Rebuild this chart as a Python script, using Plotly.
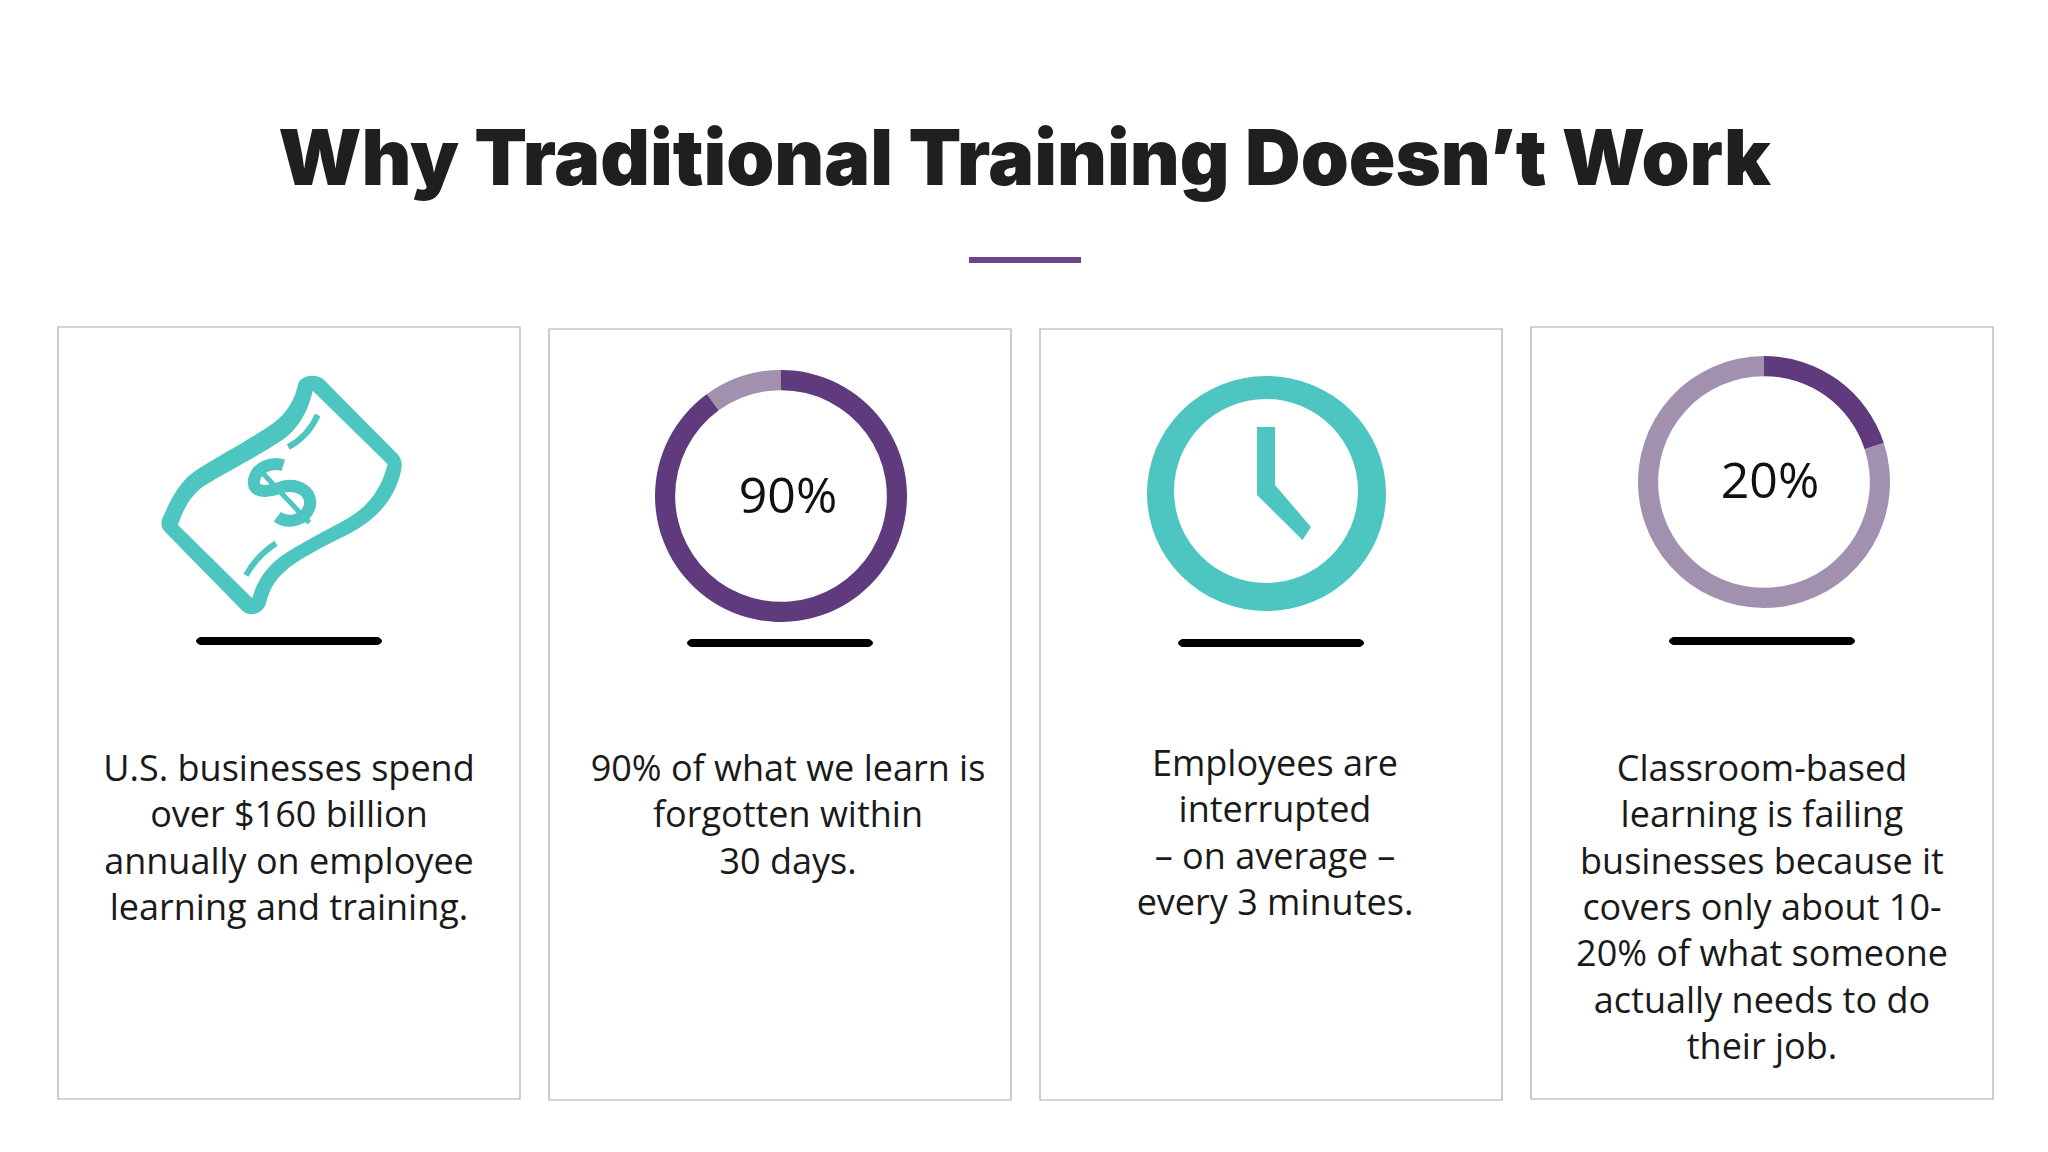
import plotly.graph_objects as go

WIDTH = 2048
HEIGHT = 1152

TEAL = "#4DC5C1"
PURPLE = "#5F3B7E"
LIGHT_PURPLE = "#A291AE"
TITLE_COLOR = "#1F1F1F"
BORDER = "#ABABAB"

title_text = "Why Traditional Training Doesn’t Work"

# card boxes: left, top, right, bottom
card_left = [58, 549, 1040, 1531]
card_top = [327, 329, 329, 327]
card_right = [520, 1011, 1502, 1993]
card_bottom = [1099, 1100, 1100, 1099]
rule_y = [641, 643, 643, 641]

card1_lines = ["U.S. businesses spend", "over $160 billion", "annually on employee", "learning and training."]
card2_lines = ["90% of what we learn is", "forgotten within", "30 days."]
card3_lines = ["Employees are", "interrupted", "– on average –", "every 3 minutes."]
card4_lines = ["Classroom-based", "learning is failing", "businesses because it", "covers only about 10-",
               "20% of what someone", "actually needs to do", "their job."]
card_lines = [card1_lines, card2_lines, card3_lines, card4_lines]
text_x = [289, 788, 1275, 1762]
text_first_y = [772, 772, 767, 772]
LINE_STEP = 46.3

# donuts
donut1_values = [90, 10]
donut2_values = [20, 80]
donut1_colors = [PURPLE, LIGHT_PURPLE]
donut2_colors = [PURPLE, LIGHT_PURPLE]
donut_labels = ["90%", "20%"]
donut_label_x = [788, 1770]
donut_label_y = [500, 485]


def zoom_path(text):
    # bill icon was measured on a 3x crop starting at (40, 320)
    out = []
    for token in text.split():
        if "," in token:
            x, y = token.split(",")
            out.append(f"{float(x) / 3 + 40:.1f},{float(y) / 3 + 320:.1f}")
        else:
            out.append(token)
    return " ".join(out)


def rounded_rule(mid, y, half=93, r=4):
    x0, x1 = mid - half + r, mid + half - r
    return (f"M {x0},{y - r} L {x1},{y - r} Q {x1 + 2 * r},{y} {x1},{y + r} "
            f"L {x0},{y + r} Q {x0 - 2 * r},{y} {x0},{y - r} Z")


BILL_OUTER = ("M 775,190 C 785,165 830,160 850,178 L 1075,405 C 1090,425 1085,445 1080,465 "
              "C 1060,540 1010,600 920,645 C 850,680 790,710 745,745 C 710,775 690,800 678,850 "
              "C 670,880 630,895 605,870 L 375,635 C 360,620 362,600 372,585 C 395,530 420,490 450,465 "
              "C 500,425 620,365 700,310 C 740,280 765,240 775,190 Z")
BILL_INNER = ("M 818,212 L 1043,433 C 1020,520 975,570 900,608 C 830,646 770,676 720,711 "
              "C 675,746 650,785 637,835 L 414,615 C 430,568 452,525 492,498 C 552,460 652,410 727,360 "
              "C 777,325 805,272 818,212 Z")
BILL_DASH_TOP = "M 833,285 C 815,325 785,360 745,381"
BILL_DASH_BOTTOM = "M 708,670 C 670,695 640,725 618,766"
BILL_S = ("M 730,436 C 695,425 650,440 642,480 C 636,525 690,515 730,500 "
          "C 775,490 815,515 810,555 C 800,600 745,615 712,590")
BILL_BAR = "M 650,440 L 808,608"

CLOCK_HAND = "M 1257,427 L 1275,427 L 1275,485 L 1311,527 L 1302.5,540 L 1257,495 Z"

fig = go.Figure()

shapes = []
for left, top, right, bottom in zip(card_left, card_top, card_right, card_bottom):
    shapes.append(dict(type="rect", x0=left, y0=top, x1=right, y1=bottom,
                       line=dict(color=BORDER, width=1.2), fillcolor="rgba(0,0,0,0)"))

# black rule below each icon
for left, right, y in zip(card_left, card_right, rule_y):
    shapes.append(dict(type="path", path=rounded_rule((left + right) / 2, y),
                       fillcolor="#000000", line=dict(width=0)))

# purple rule under the title
shapes.append(dict(type="line", x0=969, x1=1081, y0=260, y1=260, line=dict(color="#6F4389", width=6)))

# bill icon
shapes.append(dict(type="path", path=zoom_path(BILL_OUTER), fillcolor=TEAL, line=dict(width=0)))
shapes.append(dict(type="path", path=zoom_path(BILL_INNER), fillcolor="white", line=dict(width=0)))
for part, width in [(BILL_DASH_TOP, 6), (BILL_DASH_BOTTOM, 6), (BILL_S, 12), (BILL_BAR, 5)]:
    shapes.append(dict(type="path", path=zoom_path(part), line=dict(color=TEAL, width=width)))

# clock icon
shapes.append(dict(type="circle", x0=1147, x1=1386, y0=376, y1=611, fillcolor=TEAL, line=dict(width=0)))
shapes.append(dict(type="circle", x0=1174, x1=1358, y0=399, y1=583, fillcolor="white", line=dict(width=0)))
shapes.append(dict(type="path", path=CLOCK_HAND, fillcolor=TEAL, line=dict(width=0)))

# body text, one point per line so the spacing can follow the slide
for lines, x, first_y in zip(card_lines, text_x, text_first_y):
    fig.add_trace(go.Scatter(
        x=[x] * len(lines),
        y=[first_y + i * LINE_STEP for i in range(len(lines))],
        mode="text", text=lines, textposition="middle center",
        textfont=dict(family="Open Sans", size=36, color="#1A1A1A"),
        showlegend=False, hoverinfo="skip",
    ))

fig.add_trace(go.Scatter(
    x=donut_label_x, y=donut_label_y, mode="text", text=donut_labels, textposition="middle center",
    textfont=dict(family="Open Sans", size=50, color="#111111"),
    showlegend=False, hoverinfo="skip",
))

fig.add_trace(go.Scatter(
    x=[1024.5], y=[166], mode="text", text=[title_text], textposition="middle center",
    textfont=dict(family="Inter", size=77, color=TITLE_COLOR, weight=900),
    showlegend=False, hoverinfo="skip",
))


def donut(values, colors, cx, cy, r):
    return go.Pie(
        values=values, marker=dict(colors=colors, line=dict(width=0)),
        hole=0.84, sort=False, direction="clockwise", rotation=0,
        textinfo="none", hoverinfo="skip", showlegend=False,
        domain=dict(x=[(cx - r) / WIDTH, (cx + r) / WIDTH],
                    y=[1 - (cy + r) / HEIGHT, 1 - (cy - r) / HEIGHT]),
    )


fig.add_trace(donut(donut1_values, donut1_colors, 781, 496, 126))
fig.add_trace(donut(donut2_values, donut2_colors, 1764, 482, 126))

fig.update_layout(
    width=WIDTH, height=HEIGHT,
    margin=dict(l=0, r=0, t=0, b=0),
    paper_bgcolor="white", plot_bgcolor="white",
    xaxis=dict(range=[0, WIDTH], visible=False, fixedrange=True),
    yaxis=dict(range=[HEIGHT, 0], visible=False, fixedrange=True),
    shapes=shapes,
)

# the page's default body margin would shift the whole slide
fig.write_html("out.html", config={"displayModeBar": False},
               post_script="document.body.style.margin = '0';")
